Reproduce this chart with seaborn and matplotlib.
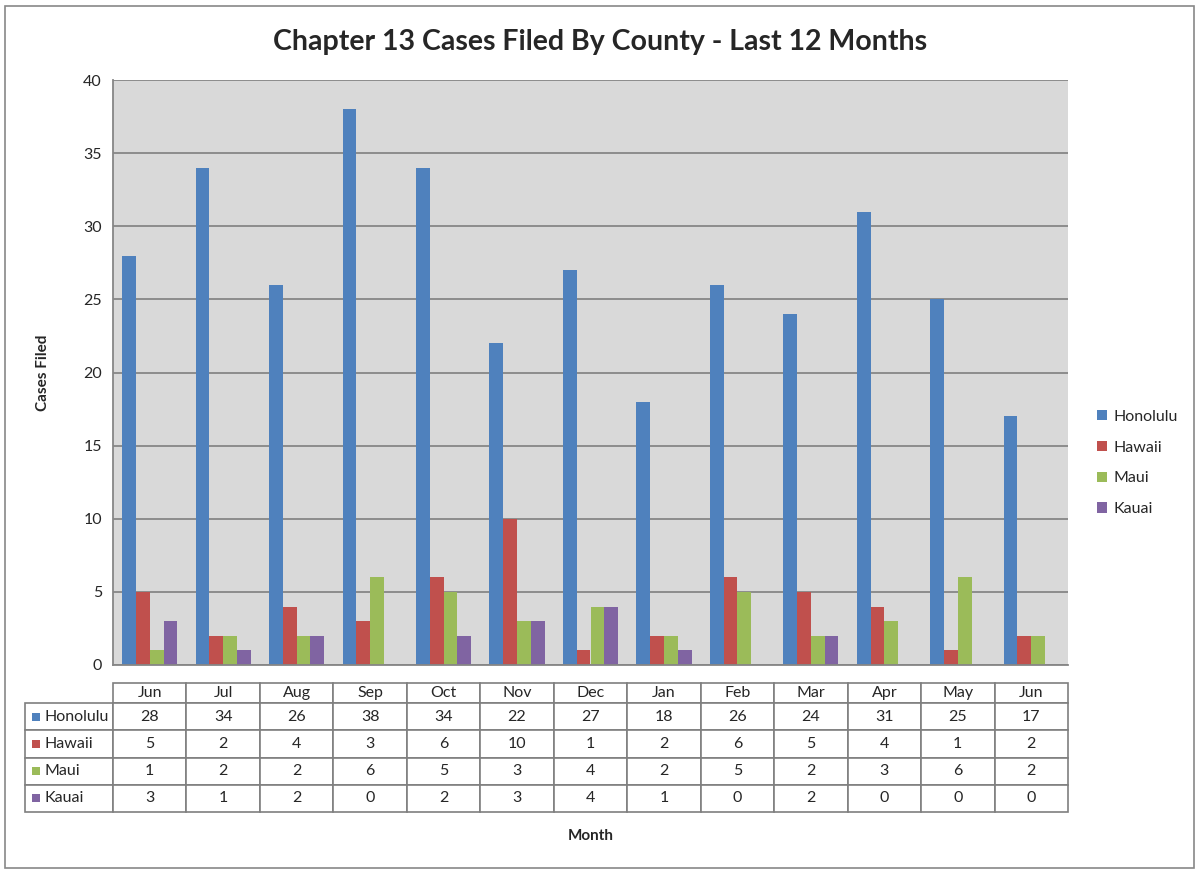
import pandas as pd
import numpy as np
import seaborn as sns
import matplotlib.pyplot as plt
from matplotlib.patches import Rectangle, Patch

# data (last 12 months, Jun .. Jun)
bulan = ['Jun', 'Jul', 'Aug', 'Sep', 'Oct', 'Nov', 'Dec',
         'Jan', 'Feb', 'Mar', 'Apr', 'May', 'Jun']
county = ['Honolulu', 'Hawaii', 'Maui', 'Kauai']
honolulu = [28, 34, 26, 38, 34, 22, 27, 18, 26, 24, 31, 25, 17]
hawaii = [5, 2, 4, 3, 6, 10, 1, 2, 6, 5, 4, 1, 2]
maui = [1, 2, 2, 6, 5, 3, 4, 2, 5, 2, 3, 6, 2]
kauai = [3, 1, 2, 0, 2, 3, 4, 1, 0, 2, 0, 0, 0]
warna = ['#4F81BD', '#C0504D', '#9BBB59', '#8064A2']

nilai = [honolulu, hawaii, maui, kauai]

# long format for seaborn; month index used as x since "Jun" appears twice
rows = []
for nama, seri in zip(county, nilai):
    for i, v in enumerate(seri):
        rows.append({'slot': i, 'county': nama, 'cases': v})
df = pd.DataFrame(rows)

sns.set_style("white")
plt.rcParams['font.family'] = ['Lato', 'DejaVu Sans']

fig = plt.figure(figsize=(12, 8.74), dpi=100)
ax = fig.add_axes([113 / 1200, 1 - 665 / 874, 955 / 1200, 585 / 874])
ax.set_facecolor('#D9D9D9')

sns.barplot(data=df, x='slot', y='cases', hue='county', hue_order=county,
            palette=dict(zip(county, warna)), saturation=1, width=0.75,
            errorbar=None, linewidth=0, ax=ax, legend=False)

ax.set_ylim(0, 40)
ax.set_xlim(-0.5, len(bulan) - 0.5)
ax.set_yticks(np.arange(0, 41, 5))
ax.tick_params(axis='y', length=0, pad=8, labelsize=11.5)
ax.set_xticks([])
ax.set_xlabel('')
ax.set_ylabel('Cases Filed', fontsize=11, fontweight='bold', labelpad=24)
ax.yaxis.grid(True, color='#868686', linewidth=1.3)
ax.set_axisbelow(True)
for s in ['top', 'right']:
    ax.spines[s].set_visible(False)
for s in ['left', 'bottom']:
    ax.spines[s].set_color('#868686')
    ax.spines[s].set_linewidth(1.3)

# data table under the plot
isi = [[nama] + [str(v) for v in seri] for nama, seri in zip(county, nilai)]
lebar = [88] + [955 / len(bulan)] * len(bulan)
tbl = ax.table(cellText=isi, colLabels=[''] + bulan, colWidths=lebar,
               cellLoc='center',
               bbox=[(25 - 113) / 955, (665 - 812) / 585, (1068 - 25) / 955, 129 / 585])
tbl.auto_set_font_size(False)
tbl.set_fontsize(11.5)
for (r, c), cell in tbl.get_celld().items():
    cell.set_edgecolor('#7F7F7F')
    cell.set_linewidth(1.2)
    cell.set_height(20 if r == 0 else 27)
    if r == 0 and c == 0:
        cell.visible_edges = 'open'
    if c == 0 and r > 0:
        cell._loc = 'left'
        cell.PAD = 0.22
        cell.get_text().set_horizontalalignment('left')

fig.canvas.draw()
for r in range(1, len(county) + 1):
    cell = tbl[r, 0]
    cx, cy, ch = cell.get_x(), cell.get_y(), cell.get_height()
    sq_w = 8 / 955
    sq_h = 8 / 585
    ax.add_patch(Rectangle((cx + 7 / 955, cy + ch / 2 - sq_h / 2), sq_w, sq_h,
                           transform=ax.transAxes, facecolor=warna[r - 1],
                           edgecolor='none', clip_on=False, zorder=5))

fig.text(591 / 1200, 1 - 836 / 874, 'Month', ha='center', va='center',
         fontsize=11, fontweight='bold')
fig.text(600 / 1200, 1 - 42 / 874, 'Chapter 13 Cases Filed By County - Last 12 Months',
         ha='center', va='center', fontsize=20.5, fontweight='bold')

handles = [Patch(facecolor=w, edgecolor='none') for w in warna]
fig.legend(handles, county, loc='center left', bbox_to_anchor=(1083 / 1200, 1 - 463 / 874),
           frameon=False, fontsize=11.5, handlelength=0.6, handleheight=0.6,
           handletextpad=0.4, labelspacing=1.05)

fig.patches.append(Rectangle((5 / 1200, 6 / 874), 1189 / 1200, 862 / 874,
                             transform=fig.transFigure, fill=False,
                             edgecolor='#888888', linewidth=1.2))

plt.savefig('out.png', dpi=100)
